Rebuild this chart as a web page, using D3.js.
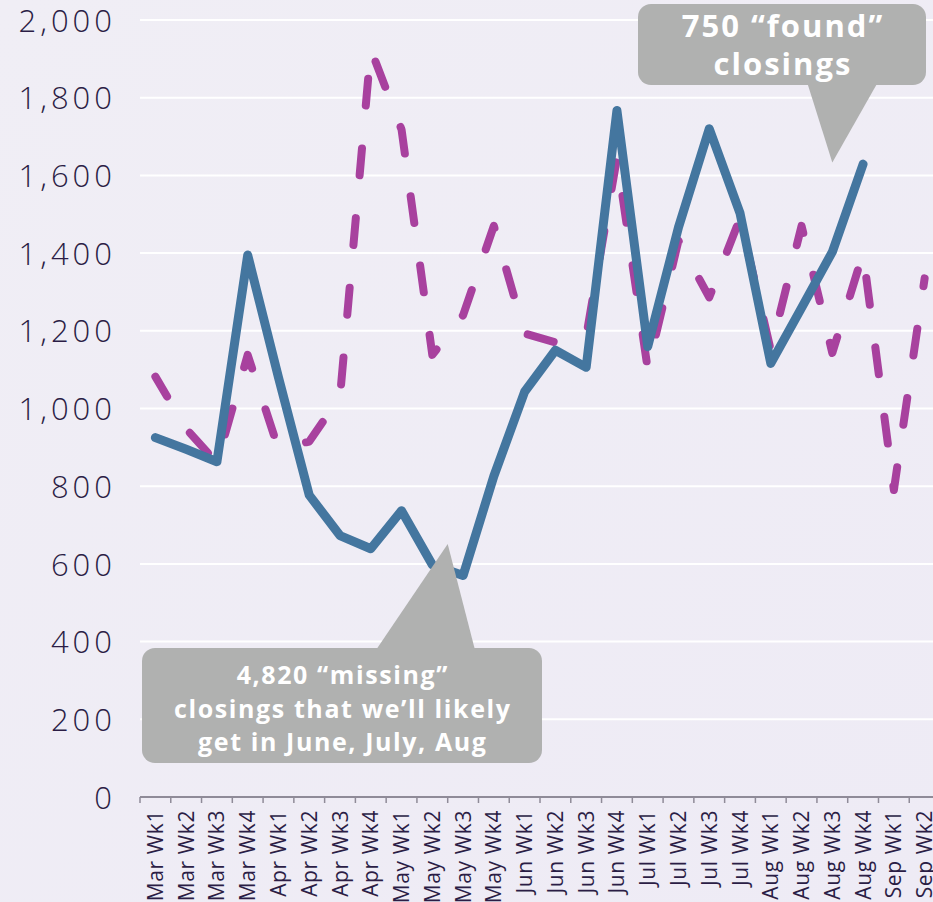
<!DOCTYPE html>
<html>
<head>
<meta charset="utf-8">
<script src="https://cdn.jsdelivr.net/npm/d3@7"></script>
<style>
  html, body { margin: 0; padding: 0; background: #efedf5; }
  svg { display: block; }
  .ylab text { font-family: "Open Sans", sans-serif; font-weight: 300; font-size: 31px; letter-spacing: 4px; fill: #2b1d45; }
  .xlab text { font-family: "Open Sans", sans-serif; font-size: 21px; letter-spacing: 0.6px; fill: #2b1d45; }
  .callout text { font-family: "Open Sans", sans-serif; font-weight: 700; fill: #ffffff; }
</style>
</head>
<body>
<svg width="933" height="902"></svg>
<script>
// weekly closings, this year (blue) vs typical year (magenta, dashed)
const weeks = ['Mar Wk1', 'Mar Wk2', 'Mar Wk3', 'Mar Wk4', 'Apr Wk1', 'Apr Wk2', 'Apr Wk3', 'Apr Wk4',
  'May Wk1', 'May Wk2', 'May Wk3', 'May Wk4', 'Jun Wk1', 'Jun Wk2', 'Jun Wk3', 'Jun Wk4',
  'Jul Wk1', 'Jul Wk2', 'Jul Wk3', 'Jul Wk4', 'Aug Wk1', 'Aug Wk2', 'Aug Wk3', 'Aug Wk4',
  'Sep Wk1', 'Sep Wk2'];

const actual = [925, 895, 863, 1395, 1080, 777, 673, 639,
  737, 598, 570, 826, 1043, 1150, 1106, 1767,
  1159, 1466, 1720, 1503, 1116, 1259, 1403, 1629,
  null, null];

const typical = [1082, 948, 860, 1138, 896, 915, 1030, 1925,
  1718, 1138, 1240, 1470, 1193, 1170, 1185, 1645,
  1102, 1432, 1286, 1490, 1150, 1470, 1143, 1400,
  790, 1335];

const yTicks = [0, 200, 400, 600, 800, 1000, 1200, 1400, 1600, 1800, 2000];

const svg = d3.select('svg');
const W = 933, H = 902;
const left = 140, bandW = 30.77;

const defs = svg.append('defs');
const grad = defs.append('linearGradient').attr('id', 'bg')
  .attr('x1', 0).attr('y1', 0).attr('x2', 1).attr('y2', 1);
grad.append('stop').attr('offset', '0%').attr('stop-color', '#f0eef5');
grad.append('stop').attr('offset', '100%').attr('stop-color', '#eeebf5');
svg.append('rect').attr('width', W).attr('height', H).attr('fill', 'url(#bg)');

const xScale = d3.scaleBand()
  .domain(weeks)
  .range([left, left + bandW * weeks.length])
  .padding(0);

const yScale = d3.scaleLinear()
  .domain([0, 2000])
  .range([797, 20]);

const cx = d => xScale(d) + xScale.bandwidth() / 2;

// grid
svg.append('g')
  .selectAll('line')
  .data(yTicks.filter(t => t > 0))
  .join('line')
  .attr('x1', left).attr('x2', W)
  .attr('y1', d => yScale(d)).attr('y2', d => yScale(d))
  .attr('stroke', '#ffffff')
  .attr('stroke-width', 2);

// y labels
svg.append('g')
  .attr('class', 'ylab')
  .attr('transform', `translate(${left}, 0)`)
  .call(d3.axisLeft(yScale).tickValues(yTicks).tickFormat(d3.format(',')).tickSize(0).tickPadding(24))
  .call(g => g.select('.domain').remove())
  .selectAll('text')
  .attr('dy', '0.36em');

// x axis
const xAxis = svg.append('g')
  .attr('class', 'xlab')
  .attr('transform', `translate(0, ${yScale(0)})`)
  .call(d3.axisBottom(xScale).tickSize(0))
  .call(g => g.select('.domain').remove());

xAxis.selectAll('text')
  .attr('transform', 'rotate(-90)')
  .attr('x', -13)
  .attr('y', 0)
  .attr('dy', '0.36em')
  .attr('text-anchor', 'end');

xAxis.append('line')
  .attr('x1', left).attr('x2', W)
  .attr('stroke', '#8f8b98').attr('stroke-width', 2);

xAxis.append('g')
  .selectAll('line')
  .data(weeks.concat(['end']))
  .join('line')
  .attr('x1', (d, i) => left + i * xScale.bandwidth())
  .attr('x2', (d, i) => left + i * xScale.bandwidth())
  .attr('y1', 0).attr('y2', 6)
  .attr('stroke', '#8f8b98').attr('stroke-width', 1.5);

// lines
const line = d3.line()
  .defined(d => d.v != null)
  .x(d => cx(d.w))
  .y(d => yScale(d.v));

svg.append('path')
  .datum(weeks.map((w, i) => ({ w: w, v: typical[i] })))
  .attr('d', line)
  .attr('fill', 'none')
  .attr('stroke', '#a8419e')
  .attr('stroke-width', 8)
  .attr('stroke-linecap', 'round')
  .attr('stroke-linejoin', 'round')
  .attr('stroke-dasharray', '27,43')
  .attr('stroke-dashoffset', 4);

svg.append('path')
  .datum(weeks.map((w, i) => ({ w: w, v: actual[i] })))
  .attr('d', line)
  .attr('fill', 'none')
  .attr('stroke', '#44769f')
  .attr('stroke-width', 9)
  .attr('stroke-linecap', 'round')
  .attr('stroke-linejoin', 'round');

// callouts
function callout(box, tip, base, lines, size, ls, lh, firstBase) {
  const g = svg.append('g').attr('class', 'callout');
  g.append('rect')
    .attr('x', box[0]).attr('y', box[1])
    .attr('width', box[2]).attr('height', box[3])
    .attr('rx', 13)
    .attr('fill', '#b0b1b0');
  g.append('path')
    .attr('d', `M${base[0]},${base[2]} L${tip[0]},${tip[1]} L${base[1]},${base[2]} Z`)
    .attr('fill', '#b0b1b0');
  g.selectAll('text')
    .data(lines)
    .join('text')
    .attr('x', box[0] + box[2] / 2 + ls / 2)
    .attr('y', (d, i) => firstBase + i * lh)
    .attr('text-anchor', 'middle')
    .attr('font-size', size)
    .attr('letter-spacing', ls)
    .text(d => d);
}

callout([638, 4, 288, 81],
  [cx('Aug Wk3'), yScale(1633)], [807, 878, 82],
  ['750 \u201cfound\u201d', 'closings'], 31, 2, 38, 37);

callout([142, 648, 400, 115],
  [(cx('May Wk2') + cx('May Wk3')) / 2, yScale(651)], [376, 475, 650],
  ['4,820 \u201cmissing\u201d', 'closings that we\u2019ll likely', 'get in June, July, Aug'], 25, 1.6, 33.5, 684);
</script>
</body>
</html>
